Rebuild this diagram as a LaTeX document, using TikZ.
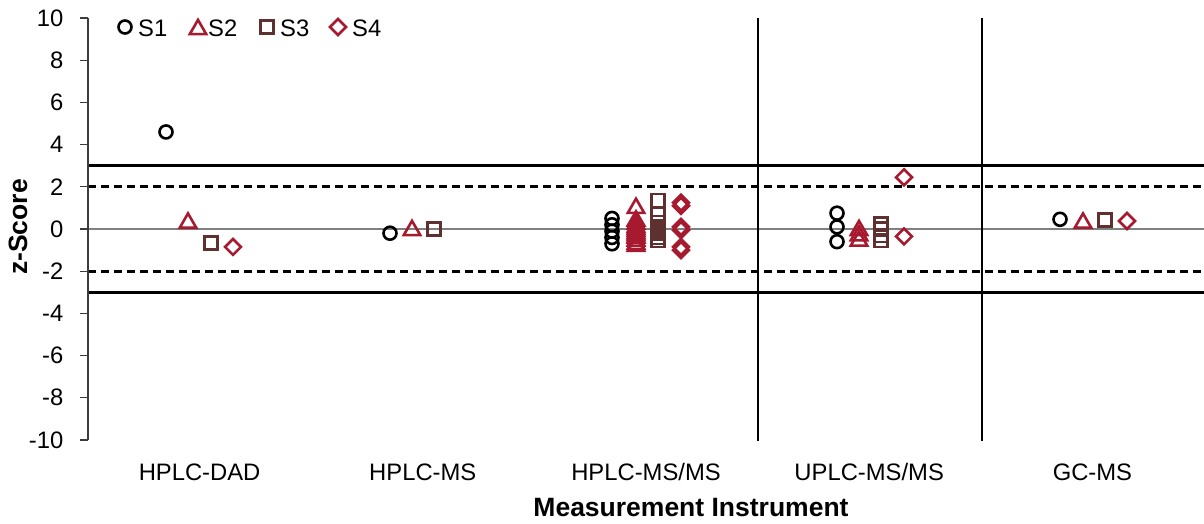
\documentclass[tikz,border=0pt]{standalone}
\usepackage{fontspec}
\setmainfont{Liberation Sans}
\usetikzlibrary{shapes.geometric}
\definecolor{sred}{RGB}{166,25,46}
\definecolor{sbrown}{RGB}{94,48,48}
\definecolor{axgray}{RGB}{60,60,60}
\begin{document}
\begin{tikzpicture}[x=1pt,y=-1pt,
  mk/.style={inner sep=0pt, line width=2.6pt},
  mcirc/.style={mk, circle, draw=black, minimum size=13pt},
  mtri/.style={mk, regular polygon, regular polygon sides=3, draw=sred, minimum size=19pt, yshift=-2.4pt},
  msq/.style={mk, rectangle, draw=sbrown, minimum size=13pt},
  mdia/.style={mk, diamond, draw=sred, minimum width=17pt, minimum height=17pt},
  lbl/.style={font=\fontsize{23.8}{28}\selectfont, inner sep=0pt},
  ttl/.style={font=\fontsize{26.5}{30}\selectfont\bfseries, inner sep=0pt},
  limit/.style={line width=2.8pt, black},
  warn/.style={line width=2.8pt, black, dash pattern=on 8pt off 5pt},
]
\useasboundingbox (0,0) rectangle (1204,524);

% data coordinate system: x in px, y in z-score units
\begin{scope}[shift={(0,229)}, y=21.1pt]
  % reference lines
  \draw[gray, line width=1.2pt] (88,0) -- (1204,0);
  \draw[warn] (88,2) -- (1204,2);
  \draw[warn] (88,-2) -- (1204,-2);
  \draw[limit] (88,3) -- (1204,3);
  \draw[limit] (88,-3) -- (1204,-3);
  \draw[line width=2.8pt] (758,10) -- (758,-10.05);
  \draw[line width=2.8pt] (982,10) -- (982,-10.05);
  % y axis
  \draw[axgray, line width=1.2pt] (88,10) -- (88,-10);
  \foreach \v in {-10,-8,...,10} {
    \draw[axgray, line width=1.2pt] (80,\v) -- (88,\v);
    \node[lbl, anchor=east] (yt\v) at (63.5,\v) {\v};
  }

  % HPLC-DAD
  \node[mcirc] (dad1) at (166,4.6) {};
  \node[mtri]  (dad2) at (188,0.4) {};
  \node[msq]   (dad3) at (211,-0.65) {};
  \node[mdia]  (dad4) at (233,-0.85) {};
  % HPLC-MS
  \node[mcirc] (ms1) at (390,-0.2) {};
  \node[mtri]  (ms2) at (412,0.05) {};
  \node[msq]   (ms3) at (434,0.0) {};
  % HPLC-MS/MS
  \foreach \v [count=\i] in {0.5,0.2,-0.1,-0.4,-0.7}
    \node[mcirc] (mm1-\i) at (612,\v) {};
  \foreach \v [count=\i] in {1.1,0.5,0.35,0.2,0.1,0,-0.1,-0.2,-0.3,-0.45,-0.6,-0.7}
    \node[mtri] (mm2-\i) at (636,\v) {};
  \foreach \v [count=\i] in {1.35,0.7,0.3,0.1,-0.05,-0.2,-0.4,-0.55}
    \node[msq] (mm3-\i) at (658,\v) {};
  \foreach \v [count=\i] in {1.25,1.1,0.1,-0.05,-0.85,-1.0}
    \node[mdia] (mm4-\i) at (681,\v) {};
  % UPLC-MS/MS
  \foreach \v [count=\i] in {0.75,0.1,-0.6}
    \node[mcirc] (up1-\i) at (837,\v) {};
  \foreach \v [count=\i] in {0.05,-0.2,-0.45}
    \node[mtri] (up2-\i) at (859,\v) {};
  \foreach \v [count=\i] in {0.25,0,-0.3,-0.55}
    \node[msq] (up3-\i) at (881,\v) {};
  \foreach \v [count=\i] in {2.45,-0.35}
    \node[mdia] (up4-\i) at (904,\v) {};
  % GC-MS
  \node[mcirc] (gc1) at (1060,0.46) {};
  \node[mtri]  (gc2) at (1083,0.4) {};
  \node[msq]   (gc3) at (1105,0.43) {};
  \node[mdia]  (gc4) at (1127,0.38) {};
\end{scope}

% legend
\node[mcirc] (lg1) at (125,27) {};
\node[lbl, anchor=west] (lt1) at (138,28) {S1};
\node[mtri]  (lg2) at (198,27) {};
\node[lbl, anchor=west] (lt2) at (208,28) {S2};
\node[msq]   (lg3) at (267,27) {};
\node[lbl, anchor=west] (lt3) at (280,28) {S3};
\node[mdia]  (lg4) at (338,27) {};
\node[lbl, anchor=west] (lt4) at (352,28) {S4};

% category labels
\node[lbl] (c1) at (199.6,472) {HPLC-DAD};
\node[lbl] (c2) at (422.8,472) {HPLC-MS};
\node[lbl] (c3) at (646,472) {HPLC-MS/MS};
\node[lbl] (c4) at (869.2,472) {UPLC-MS/MS};
\node[lbl] (c5) at (1092.4,472) {GC-MS};

% axis titles
\node[ttl] (xt) at (691,508) {Measurement Instrument};
\node[ttl, rotate=90] (yt) at (18,227) {z-Score};
\end{tikzpicture}
\end{document}
